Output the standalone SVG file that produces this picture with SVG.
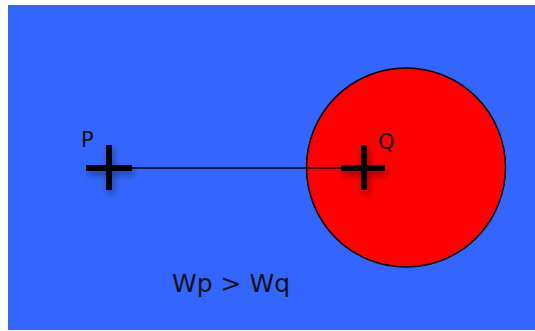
<svg xmlns="http://www.w3.org/2000/svg" width="535" height="331" viewBox="0 0 535 331">
<style>
.lbl{font-family:"DejaVu Sans","Liberation Sans",sans-serif;fill:#111;}
.cross{stroke:#000;stroke-width:6;fill:none;}
</style>
<defs>
<filter id="sh" x="-50%" y="-50%" width="200%" height="200%">
<feGaussianBlur in="SourceAlpha" stdDeviation="3.5"/>
<feOffset dx="2" dy="4" result="b"/>
<feComponentTransfer><feFuncA type="linear" slope="0.4"/></feComponentTransfer>
<feMerge><feMergeNode/><feMergeNode in="SourceGraphic"/></feMerge>
</filter>
</defs>
<rect x="8" y="5" width="527" height="325" fill="#3366ff"/>
<g id="circle"><circle cx="406" cy="167.5" r="99.5" fill="#ff0000" stroke="#000" stroke-width="1.5"/></g>
<g id="connectors"><line x1="120" y1="168" x2="350" y2="168" stroke="#000" stroke-width="1.5"/></g>
<g id="P" filter="url(#sh)">
<path class="cross" d="M86 168H132M109 145V190"/>
</g>
<g id="Q" filter="url(#sh)">
<path class="cross" d="M341 168H385M364 145V190"/>
</g>
<text class="lbl" x="81" y="147" font-size="21">P</text>
<text class="lbl" x="378" y="149" font-size="21">Q</text>
<text class="lbl" x="172" y="292" font-size="25">Wp &gt; Wq</text>
</svg>
